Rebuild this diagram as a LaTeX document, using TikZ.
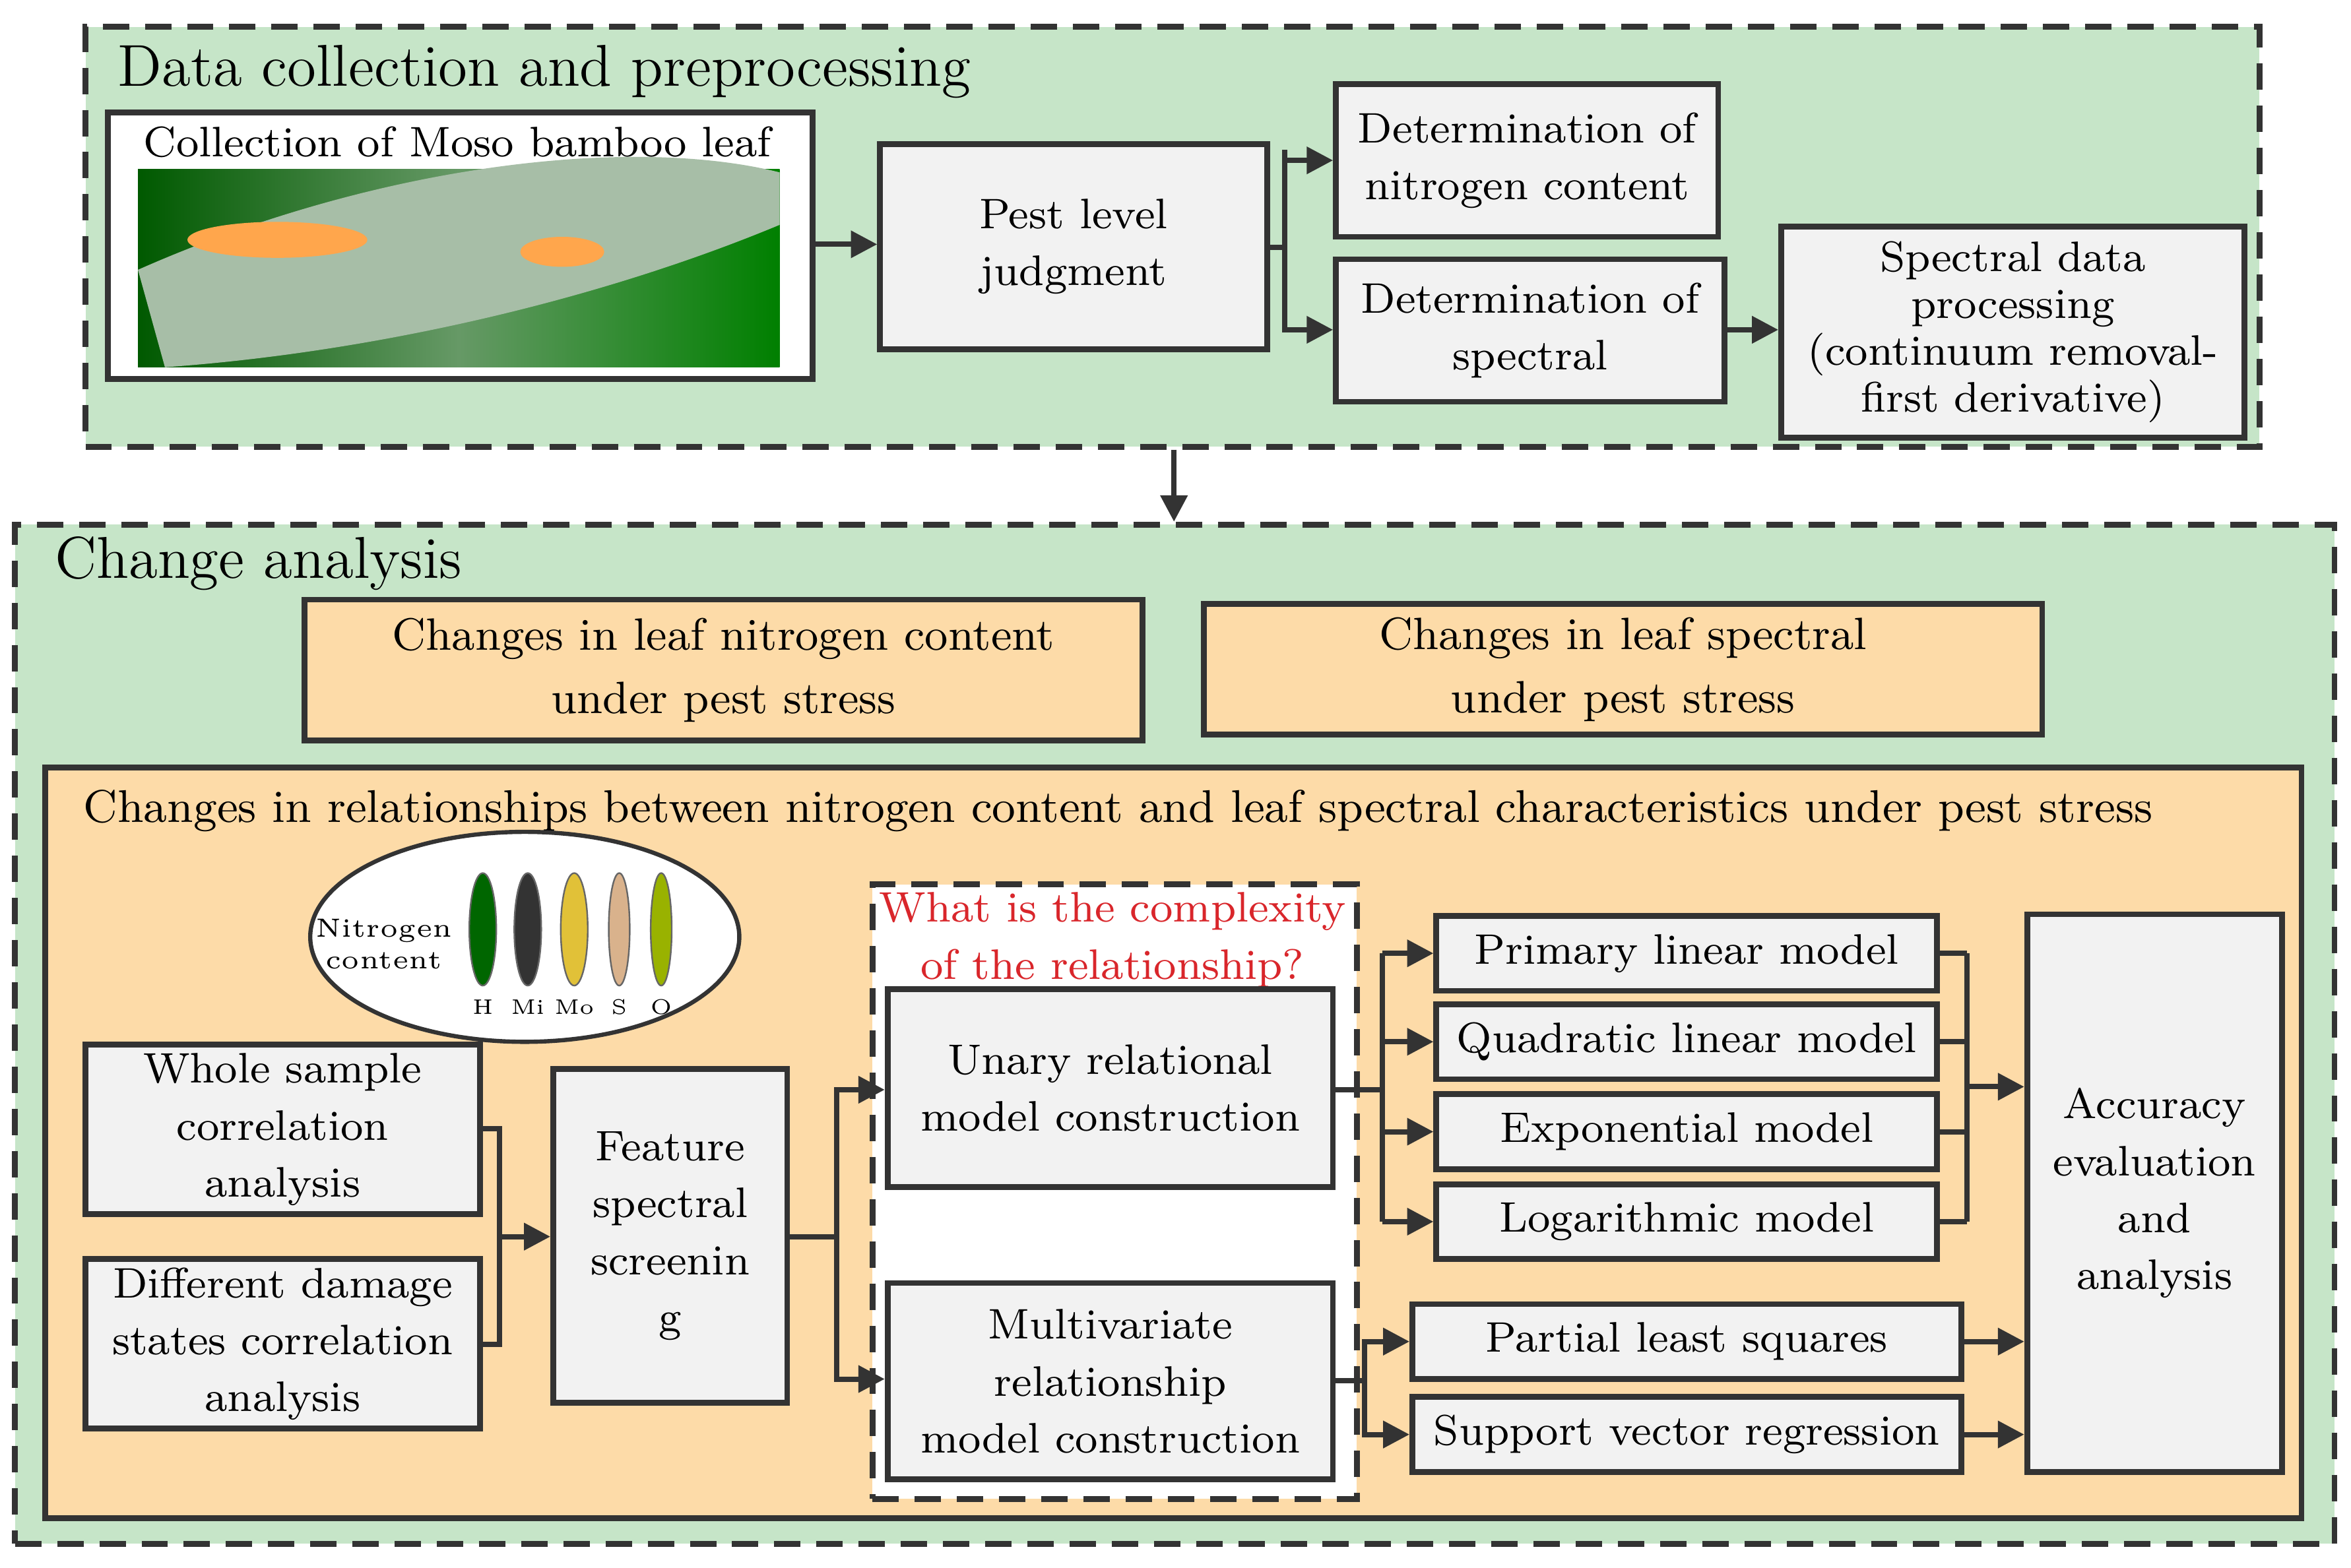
\documentclass[tikz,border=0pt]{standalone}
\usetikzlibrary{arrows.meta,shapes.geometric}
\definecolor{grn}{HTML}{C6E5C8}
\definecolor{org}{HTML}{FDDBA8}
\definecolor{gbox}{HTML}{F2F2F2}
\definecolor{edge}{HTML}{333333}
\definecolor{rd}{HTML}{D9262B}
\newcommand{\bx}[6]{\node[#1,minimum width={(#4-#2)*0.01cm},minimum height={(#5-#3)*0.01cm}] (#6) at ({(#2+#4)/2},{(#3+#5)/2})}
\tikzset{
 box/.style={draw=edge,line width=1.1pt,fill=gbox,inner sep=0pt,align=center,font=\rmfamily\fontsize{8.1}{10.8}\selectfont},
 obox/.style={box,fill=org},
 panel/.style={draw=edge,line width=1.1pt,dash pattern=on 5pt off 3pt,inner sep=0pt},
 ttl/.style={anchor=west,font=\rmfamily\fontsize{11.2}{13}\selectfont,inner sep=0pt},
 arr/.style={line width=1pt,draw=edge,-{Triangle[length=5pt,width=5pt]}},
 ln/.style={line width=1pt,draw=edge},
 leaf/.style={ellipse,draw=black!60,line width=0.3pt,minimum width=0.18cm,minimum height=0.75cm,inner sep=0pt},
 lab/.style={font=\rmfamily\fontsize{4}{5}\selectfont,inner sep=0pt}
}
\begin{document}
\begin{tikzpicture}[x=0.01cm,y=-0.01cm]
\useasboundingbox (0,0) rectangle (1568,1046);
% panel 1
\bx{panel,fill=grn}{57}{18}{1507}{298}{p1} {};
\node[ttl] (t1) at (78,48) {Data collection and preprocessing};
\bx{box,fill=white}{72}{75}{542}{253}{photo} {};
\node[inner sep=0pt,font=\rmfamily\fontsize{8.1}{11}\selectfont] (phl) at (305,95) {Collection of Moso bamboo leaf};
\shade[left color=green!35!black,right color=green!50!black,middle color=green!20!gray] (92,113) rectangle (520,245);
\fill[green!15!gray!60] (92,180) .. controls (250,110) and (420,90) .. (520,115) -- (520,150) .. controls (400,200) and (250,235) .. (110,245) -- cycle;
\fill[orange!70!white] (185,160) ellipse (60 and 12);
\fill[orange!70!white] (375,168) ellipse (28 and 10);
\bx{box}{587}{96}{845}{233}{pest} {Pest level\\judgment};
\bx{box}{891}{56}{1146}{158}{nit} {Determination of\\nitrogen content};
\bx{box}{891}{173}{1150}{268}{spec} {Determination of\\spectral};
\bx{box,font=\rmfamily\fontsize{8.1}{8.9}\selectfont}{1188}{151}{1497}{292}{proc} {Spectral data\\processing\\(continuum removal-\\first derivative)};
\draw[arr] (photo.east|-0,163) -- (pest.west|-0,163);
\draw[ln] (pest.east|-0,165) -- (857,165);
\draw[arr] (857,220) |- (nit.west|-0,107);
\draw[arr] (857,100) |- (spec.west|-0,220);
\draw[arr] (spec.east|-0,220) -- (proc.west|-0,220);
% panel 2
\bx{panel,fill=grn}{10}{350}{1557}{1030}{p2} {};
\draw[arr] (p1.south-|783,0) -- (p2.north-|783,0);
\node[ttl] (t2) at (36,376) {Change analysis};
\bx{obox,font=\rmfamily\fontsize{8.6}{12}\selectfont}{203}{400}{762}{494}{c1} {Changes in leaf nitrogen content\\under pest stress};
\bx{obox,font=\rmfamily\fontsize{8.6}{12}\selectfont}{803}{403}{1362}{490}{c2} {Changes in leaf spectral\\under pest stress};
\bx{obox}{30}{512}{1535}{1013}{big} {};
\node[ttl,font=\rmfamily\fontsize{8.7}{11}\selectfont] (t3) at (55,541) {Changes in relationships between nitrogen content and leaf spectral characteristics under pest stress};
% ellipse
\node[ellipse,draw=edge,line width=0.8pt,fill=white,minimum width=2.86cm,minimum height=1.4cm] (ell) at (350,625) {};
\node[lab,align=center,font=\rmfamily\fontsize{5}{6}\selectfont] (nc) at (256,630) {Nitrogen\\content};
\node[leaf,fill=green!40!black] (l1) at (322,620) {};
\node[leaf,fill=black!80] (l2) at (352,620) {};
\node[leaf,fill=yellow!50!brown] (l3) at (383,620) {};
\node[leaf,fill=brown!60,minimum width=0.14cm] (l4) at (413,620) {};
\node[leaf,fill=orange!60!green,minimum width=0.14cm] (l5) at (441,620) {};
\node[lab] (h) at (322,672) {H};
\node[lab] (mi) at (352,672) {Mi};
\node[lab] (mo) at (383,672) {Mo};
\node[lab] (s) at (413,672) {S};
\node[lab] (o) at (441,672) {O};
% left
\bx{box}{57}{697}{320}{810}{whole} {Whole sample\\correlation\\analysis};
\bx{box}{57}{840}{320}{953}{diff} {Different damage\\states correlation\\analysis};
\bx{box}{369}{713}{525}{936}{feat} {Feature\\spectral\\screenin\\g};
\draw[ln] (whole.east|-0,753) -| (333,897) -- (diff.east|-0,897);
\draw[arr] (333,825) -- (feat.west|-0,825);
% dashed white
\bx{panel,fill=white}{582}{590}{905}{1000}{dw} {};
\node[inner sep=0pt,align=center,text=rd,font=\rmfamily\fontsize{8.1}{10.8}\selectfont] (q) at (742,627) {What is the complexity\\of the relationship?};
\bx{box}{592}{660}{889}{792}{un} {Unary relational\\model construction};
\bx{box}{592}{856}{889}{987}{mul} {Multivariate\\relationship\\model construction};
\draw[ln] (feat.east|-0,825) -- (558,825);
\draw[arr] (558,920) |- (un.west|-0,727);
\draw[arr] (558,730) |- (mul.west|-0,920);
% models
\bx{box}{958}{611}{1292}{661}{m1} {Primary linear model};
\bx{box}{958}{670}{1292}{720}{m2} {Quadratic linear model};
\bx{box}{958}{730}{1292}{780}{m3} {Exponential model};
\bx{box}{958}{790}{1292}{840}{m4} {Logarithmic model};
\bx{box}{942}{870}{1308}{920}{pls} {Partial least squares};
\bx{box}{942}{932}{1308}{982}{svr} {Support vector regression};
\bx{box}{1352}{610}{1522}{982}{acc} {Accuracy\\evaluation\\and\\analysis};
\draw[ln] (un.east|-0,727) -- (922,727);
\draw[ln] (922,636) -- (922,815);
\foreach \m in {m1,m2,m3,m4} {\draw[arr] (\m.west-|922,0) -- (\m.west);}
\foreach \m in {m1,m2,m3,m4} {\draw[ln] (\m.east) -- (\m.east-|1312,0);}
\draw[ln] (1312,636) -- (1312,815);
\draw[arr] (1312,725) -- (acc.west|-0,725);
\draw[ln] (mul.east|-0,921) -- (910,921);
\draw[arr] (910,921) |- (pls.west);
\draw[arr] (910,921) |- (svr.west);
\draw[arr] (pls.east) -- (acc.west|-pls.east);
\draw[arr] (svr.east) -- (acc.west|-svr.east);
\end{tikzpicture}
\end{document}
